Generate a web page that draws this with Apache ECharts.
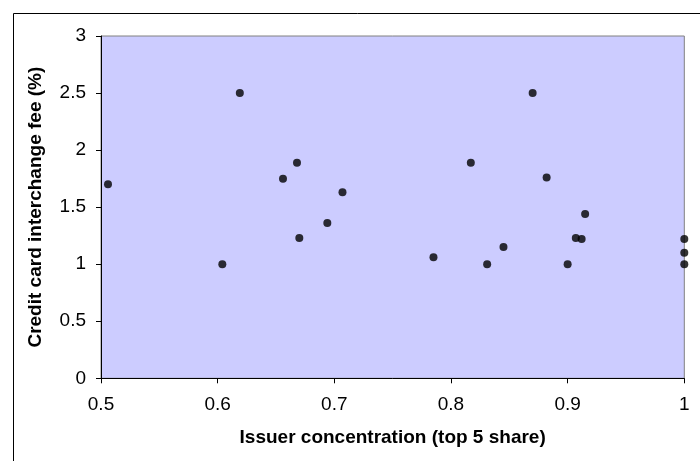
<!DOCTYPE html>
<html>
<head>
<meta charset="utf-8">
<script src="https://cdn.jsdelivr.net/npm/echarts@6/dist/echarts.min.js"></script>
<style>
html,body{margin:0;padding:0;background:#fff;}
#chart{width:700px;height:461px;}
</style>
</head>
<body>
<div id="chart"></div>
<script>
// Issuer concentration (top 5 share)
const concentration = [0.506, 0.619, 0.668, 0.656, 0.707, 0.694, 0.670, 0.604,
  0.870, 0.817, 0.882, 0.915, 0.907, 0.912, 0.845, 0.785, 0.831, 0.900, 1.0, 1.0, 1.0];
// Credit card interchange fee (%)
const fee = [1.70, 2.50, 1.89, 1.75, 1.63, 1.36, 1.23, 1.00,
  2.50, 1.89, 1.76, 1.44, 1.23, 1.22, 1.15, 1.06, 1.00, 1.00, 1.22, 1.10, 1.00];
const xTicks = [0.5, 0.6, 0.7, 0.8, 0.9, 1];
const yTicks = [0, 0.5, 1, 1.5, 2, 2.5, 3];

const points = concentration.map((x, i) => [x, fee[i]]);
const chart = echarts.init(document.getElementById('chart'), null, {renderer: 'canvas'});
const font = 'Arial, "Liberation Sans", sans-serif';
chart.setOption({
  animation: false,
  backgroundColor: '#fff',
  graphic: [{
    type: 'rect', left: 11, top: 11, z: -1,
    shape: {x: 0, y: 0, width: 700, height: 470},
    style: {fill: 'none', stroke: '#000', lineWidth: 1}
  }],
  grid: {
    left: 101, top: 36, right: 15.7, bottom: 82.7,
    show: true, backgroundColor: '#CCCCFF', borderColor: '#808080', borderWidth: 1
  },
  xAxis: {
    type: 'value', min: 0.5, max: 1, interval: 0.1,
    name: 'Issuer concentration (top 5 share)', nameLocation: 'middle', nameGap: 50,
    nameTextStyle: {fontFamily: font, fontSize: 19, fontWeight: 'bold', color: '#000'},
    axisLine: {show: true, onZero: false, lineStyle: {color: '#000', width: 1}},
    axisTick: {show: true, inside: false, length: 5, lineStyle: {color: '#000'}},
    axisLabel: {fontFamily: font, fontSize: 19, color: '#000', margin: 17,
      formatter: v => { const t = xTicks.find(k => Math.abs(k - v) < 1e-9); return t === undefined ? '' : String(t); }},
    splitLine: {show: false}
  },
  yAxis: {
    type: 'value', min: 0, max: 3, interval: 0.5,
    name: 'Credit card interchange fee (%)', nameLocation: 'middle', nameGap: 56,
    nameTextStyle: {fontFamily: font, fontSize: 19, fontWeight: 'bold', color: '#000'},
    axisLine: {show: true, onZero: false, lineStyle: {color: '#000', width: 1}},
    axisTick: {show: true, inside: false, length: 5, lineStyle: {color: '#000'}},
    axisLabel: {fontFamily: font, fontSize: 19, color: '#000', margin: 15,
      formatter: v => { const t = yTicks.find(k => Math.abs(k - v) < 1e-9); return t === undefined ? '' : String(t); }},
    splitLine: {show: false}
  },
  series: [{
    type: 'scatter',
    data: points,
    symbol: 'circle',
    symbolSize: 8,
    itemStyle: {color: '#000'},
    clip: false
  }]
});
</script>
</body>
</html>
